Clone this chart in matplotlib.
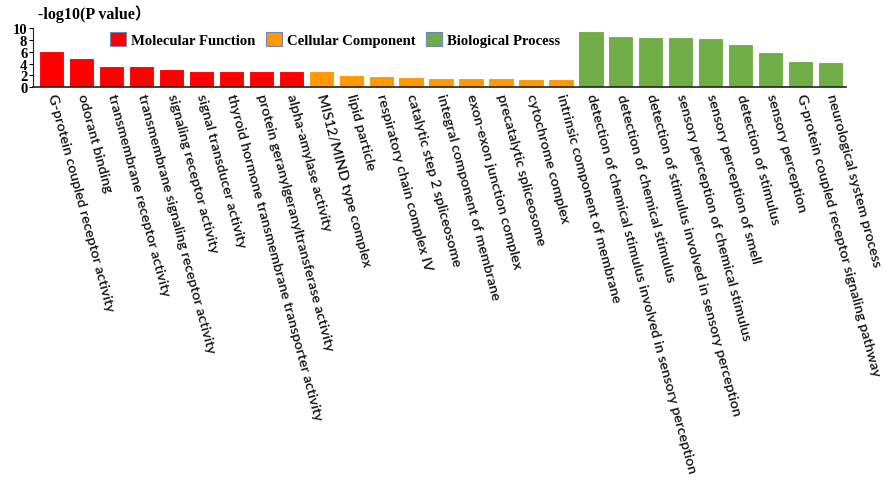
import matplotlib
matplotlib.use("Agg")
import matplotlib.pyplot as plt
from matplotlib.patches import Patch

mf_terms = [
    "G-protein coupled receptor activity",
    "odorant binding",
    "transmembrane receptor activity",
    "transmembrane signaling receptor activity",
    "signaling receptor activity",
    "signal transducer activity",
    "thyroid hormone transmembrane transporter activity",
    "protein geranylgeranyltransferase activity",
    "alpha-amylase activity",
]
mf_values = [6.1, 5.0, 3.65, 3.6, 3.05, 2.7, 2.65, 2.65, 2.65]

cc_terms = [
    "MIS12/MIND type complex",
    "lipid particle",
    "respiratory chain complex IV",
    "catalytic step 2 spliceosome",
    "integral component of membrane",
    "exon-exon junction complex",
    "precatalytic spliceosome",
    "cytochrome complex",
    "intrinsic component of membrane",
]
cc_values = [2.65, 2.1, 1.9, 1.63, 1.46, 1.46, 1.45, 1.4, 1.33]

bp_terms = [
    "detection of chemical stimulus involved in sensory perception",
    "detection of chemical stimulus",
    "detection of stimulus involved in sensory perception",
    "sensory perception of chemical stimulus",
    "sensory perception of smell",
    "detection of stimulus",
    "sensory perception",
    "G-protein coupled receptor signaling pathway",
    "neurological system process",
]
bp_values = [9.5, 8.7, 8.47, 8.45, 8.3, 7.35, 5.93, 4.5, 4.3]

groups = ["Molecular Function", "Cellular Component", "Biological Process"]
group_colors = ["#FF0000", "#FF9900", "#70AD47"]

terms = mf_terms + cc_terms + bp_terms
values = mf_values + cc_values + bp_values
colors = ([group_colors[0]] * len(mf_terms) + [group_colors[1]] * len(cc_terms)
          + [group_colors[2]] * len(bp_terms))

serif_bold = dict(family=["Liberation Serif", "Noto Sans CJK SC"], weight="bold")

fig = plt.figure(figsize=(8.88, 5.02), dpi=100)
ax = fig.add_axes([0.037, 0.8247, 0.916, 0.117])

x = list(range(len(terms)))
ax.bar(x, values, width=0.84, color=colors, edgecolor="white", linewidth=0.8)

ax.set_xlim(-0.62, len(terms) - 0.48)
ax.set_ylim(0, 10)
ax.set_yticks([0, 2, 4, 6, 8, 10])
ax.set_yticklabels(["0", "2", "4", "6", "8", "10"], fontdict=dict(serif_bold, size=10.5))
ax.tick_params(axis="y", length=3, width=0.8, pad=1, direction="out")
ax.tick_params(axis="x", length=0, pad=5)

ax.set_xticks(x)
ax.set_xticklabels(terms, rotation=-75, ha="left", va="center",
                   rotation_mode="anchor", family="Lato", weight="semibold",
                   fontsize=10.4, color="#111111")

for side in ("top", "right"):
    ax.spines[side].set_visible(False)
ax.spines["left"].set_color("#222222")
ax.spines["bottom"].set_color("#222222")
ax.spines["bottom"].set_linewidth(1.2)

fig.text(0.043, 0.972, "-log10(P value）", ha="left", va="center",
         fontsize=11.5, **serif_bold)

handles = [Patch(facecolor=c, edgecolor="#6F86B8", linewidth=0.8) for c in group_colors]
leg = ax.legend(handles, groups, ncol=3, frameon=False,
                loc="center left", bbox_to_anchor=(0.087, 0.81),
                handlelength=1.1, handleheight=1.1, handletextpad=0.35,
                columnspacing=0.7, borderaxespad=0,
                prop=dict(family="Liberation Serif", weight="bold", size=10.6))

fig.savefig("out.png", dpi=100)
